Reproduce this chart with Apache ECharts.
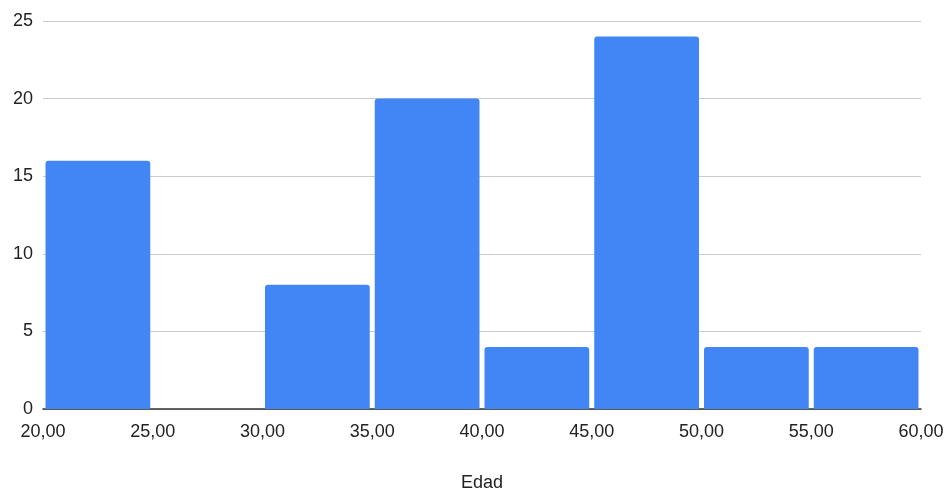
<!DOCTYPE html>
<html>
<head>
<meta charset="utf-8">
<script src="https://cdn.jsdelivr.net/npm/echarts@6/dist/echarts.min.js"></script>
<style>
html,body{margin:0;padding:0;background:#fff;}
#chart{width:951px;height:497px;}
</style>
</head>
<body>
<div id="chart"></div>
<script>
var binStarts = [20, 25, 30, 35, 40, 45, 50, 55];
var binEnds = [25, 30, 35, 40, 45, 50, 55, 60];
var counts = [16, 0, 8, 20, 4, 24, 4, 4];
var xTicks = [20, 25, 30, 35, 40, 45, 50, 55, 60];
var yTicks = [0, 5, 10, 15, 20, 25];
var xTitle = 'Edad';

var data = binStarts.map(function (s, i) { return [s, binEnds[i], counts[i]]; });

var chart = echarts.init(document.getElementById('chart'), null, {renderer: 'canvas'});
chart.setOption({
  animation: false,
  backgroundColor: '#ffffff',
  textStyle: {fontFamily: 'Liberation Sans, Arial, sans-serif'},
  grid: {left: 43, right: 30, top: 21, bottom: 86, containLabel: false},
  xAxis: {
    type: 'value',
    min: xTicks[0],
    max: xTicks[xTicks.length - 1],
    interval: 5,
    name: xTitle,
    nameLocation: 'middle',
    nameGap: 65,
    nameTextStyle: {fontSize: 18, color: '#222'},
    axisLine: {show: true, lineStyle: {color: '#333', width: 1.5}},
    axisTick: {show: false},
    splitLine: {show: false},
    axisLabel: {
      fontSize: 18, color: '#222', margin: 14,
      formatter: function (v) { return v.toFixed(2).replace('.', ','); }
    }
  },
  yAxis: {
    type: 'value',
    min: yTicks[0],
    max: yTicks[yTicks.length - 1],
    interval: 5,
    axisLine: {show: false},
    axisTick: {show: false},
    splitLine: {show: true, lineStyle: {color: '#cccccc', width: 1}},
    axisLabel: {fontSize: 18, color: '#222', margin: 10}
  },
  series: [{
    type: 'custom',
    data: data,
    encode: {x: [0, 1], y: 2},
    z: 3,
    renderItem: function (params, api) {
      var p0 = api.coord([api.value(0), api.value(2)]);
      var p1 = api.coord([api.value(1), 0]);
      var h = p1[1] - p0[1];
      if (h <= 0) return null;
      return {
        type: 'rect',
        shape: {x: p0[0] + 2.5, y: p0[1], width: p1[0] - p0[0] - 5, height: h, r: [3, 3, 0, 0]},
        style: {fill: '#4285F4'}
      };
    }
  }]
});
</script>
</body>
</html>
